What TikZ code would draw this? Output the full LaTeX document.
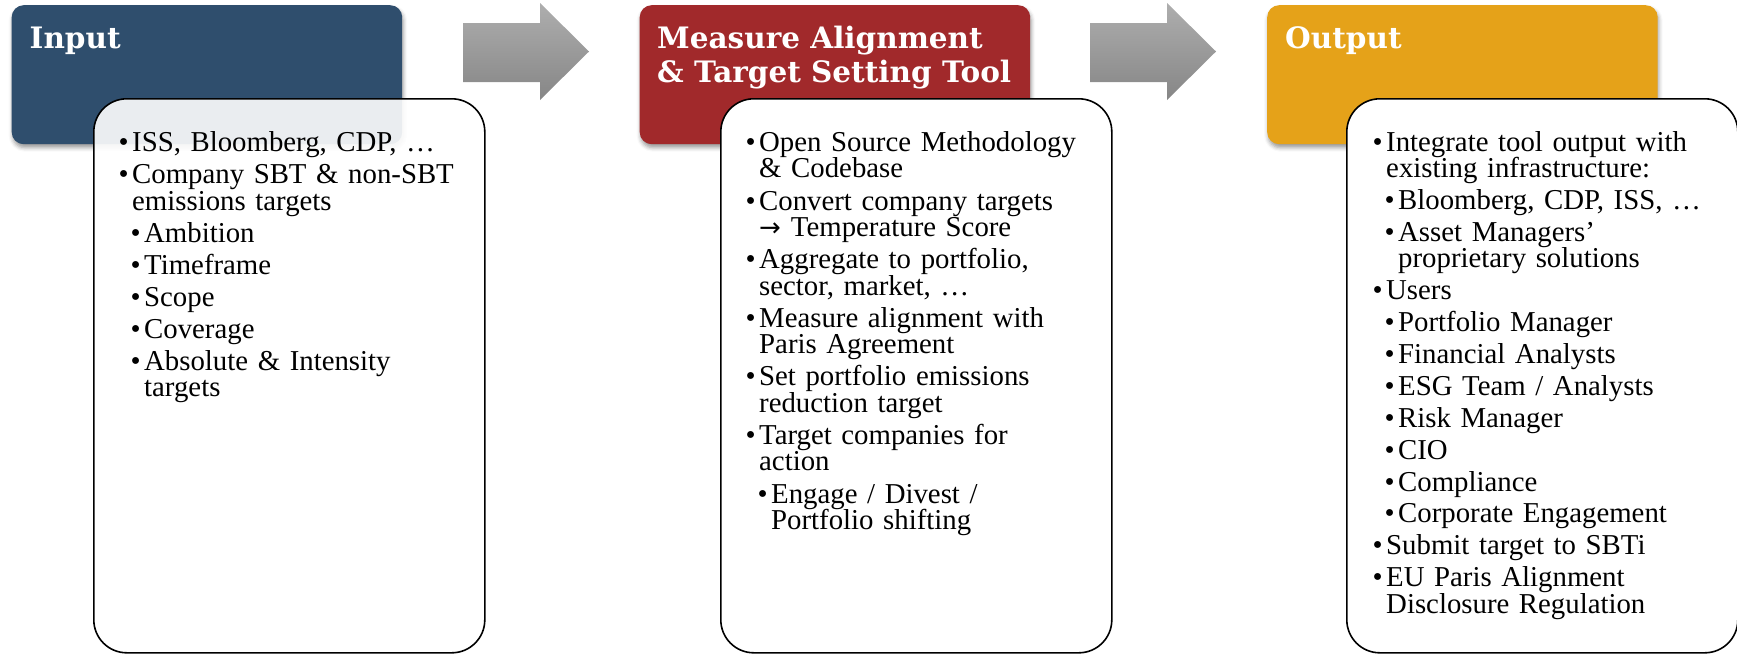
\documentclass[tikz,border=0pt]{standalone}
\usepackage{fontspec}
\setmainfont{Liberation Serif}
\newfontfamily\titlefont{DejaVu Serif}
\newfontfamily\symfont{DejaVu Sans}
\usetikzlibrary{shadows.blur}
\definecolor{inblue}{RGB}{47,78,109}
\definecolor{mred}{RGB}{161,41,43}
\definecolor{ogold}{RGB}{229,162,25}
\definecolor{arrtop}{RGB}{174,174,174}
\definecolor{arrbot}{RGB}{134,134,134}
\newcommand\bA[1]{\par\hangindent=39pt\hangafter=1\noindent\hspace*{27pt}\makebox[12pt][r]{\textbullet\hspace{3.5pt}}#1}
\newcommand\bB[1]{\par\hangindent=51pt\hangafter=1\noindent\hspace*{39pt}\makebox[12pt][r]{\textbullet\hspace{3.5pt}}#1}
\newcommand\fstrut{\rule{0pt}{22pt}}
\tikzset{
  headbox/.style={rounded corners=12pt, minimum width=390.5pt, minimum height=139pt,
    anchor=north west, inner sep=0pt,
    blur shadow={shadow xshift=1pt, shadow yshift=-3.5pt, shadow blur radius=4pt}},
  listbox/.style={draw=black, line width=1.6pt, fill=white,
    rounded corners=33pt, minimum width=391pt, minimum height=554pt,
    anchor=north west, inner sep=0pt},
  titletext/.style={anchor=north west, inner sep=0pt, text=white, align=left,
    font=\titlefont\bfseries\fontsize{29.5}{34}\selectfont},
  listtext/.style={anchor=north west, inner sep=0pt, text width=385pt, align=left,
    font=\fontsize{28.8}{26.4}\selectfont},
  grayarrow/.style={top color=arrtop, bottom color=arrbot, draw=none}
}
\begin{document}
\begin{tikzpicture}[x=1pt,y=-1pt]
\useasboundingbox (0,0) rectangle (1737,654);
% arrows
\path[grayarrow] (463,23) -- (540,23) -- (540,3) -- (589,51.5) -- (540,100) -- (540,82) -- (463,82) -- cycle;
\path[grayarrow] (1090,23) -- (1167,23) -- (1167,3) -- (1216,51.5) -- (1167,100) -- (1167,82) -- (1090,82) -- cycle;
% header boxes
\node[headbox, fill=inblue] (inhead) at (11.5,5) {};
\node[headbox, fill=mred] (mhead) at (639.5,5) {};
\node[headbox, fill=ogold] (ohead) at (1267,5) {};
% list boxes
\node[listbox, fill opacity=0.9, draw opacity=1] (inlist) at (93,98) {};
\node[listbox] (mlist) at (720,98) {};
\node[listbox] (olist) at (1346,98) {};
% titles
\node[titletext] (intitle) at (29.5,24) {\rule{0pt}{24pt}Input};
\node[titletext] (mtitle) at (657,24) {\rule{0pt}{24pt}Measure Alignment\\\& Target Setting Tool};
\node[titletext] (otitle) at (1285,24) {\rule{0pt}{24pt}Output};
% list texts
\node[listtext] (intext) at (93,119.5) {\lineskiplimit=-50pt\parskip=5.6pt
\bA{\fstrut ISS, Bloomberg, CDP, …}
\bA{Company SBT \& non-SBT\newline emissions targets}
\bB{Ambition}
\bB{Timeframe}
\bB{Scope}
\bB{Coverage}
\bB{Absolute \& Intensity\newline targets}\par};
\node[listtext] (mtext) at (720,119) {\lineskiplimit=-50pt\parskip=5.8pt
\bA{\fstrut Open Source Methodology\newline \& Codebase}
\bA{Convert company targets\newline {\symfont\fontsize{26}{26}\selectfont →}\hspace{10pt}Temperature Score}
\bA{Aggregate to portfolio,\newline sector, market, …}
\bA{Measure alignment with\newline Paris Agreement}
\bA{Set portfolio emissions\newline reduction target}
\bA{Target companies for\newline action}
\bB{Engage / Divest /\newline Portfolio shifting}\par};
\node[listtext] (otext) at (1347,119) {\lineskiplimit=-50pt\parskip=5.5pt
\bA{\fstrut Integrate tool output with\newline existing infrastructure:}
\bB{Bloomberg, CDP, ISS, …}
\bB{Asset Managers’\newline proprietary solutions}
\bA{Users}
\bB{Portfolio Manager}
\bB{Financial Analysts}
\bB{ESG Team / Analysts}
\bB{Risk Manager}
\bB{CIO}
\bB{Compliance}
\bB{Corporate Engagement}
\bA{Submit target to SBTi}
\bA{EU Paris Alignment\newline Disclosure Regulation}\par};
\end{tikzpicture}
\end{document}
